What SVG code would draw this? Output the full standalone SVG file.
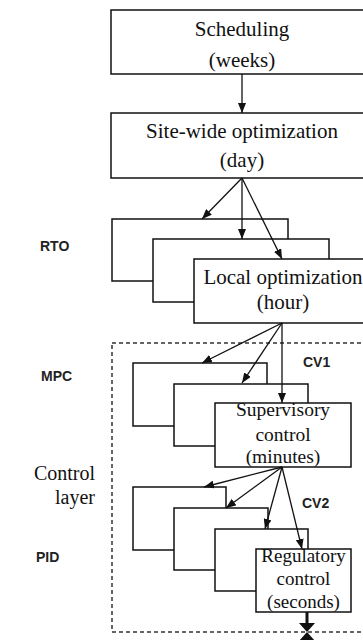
<svg xmlns="http://www.w3.org/2000/svg" width="363" height="640" viewBox="0 0 363 640">
<style>
  .box { fill: #fff; stroke: #111; stroke-width: 1.5; }
  .t { font-family: "Liberation Serif", "Times New Roman", serif; fill: #111; text-anchor: middle; }
  .big { font-size: 21px; }
  .sm { font-size: 19.5px; }
  .lab { font-family: "Liberation Sans", Arial, sans-serif; font-weight: bold; font-size: 14px; fill: #222; }
  .con { stroke: #111; stroke-width: 1.3; fill: none; marker-end: url(#ah); }
</style>
<defs>
  <marker id="ah" markerUnits="userSpaceOnUse" markerWidth="10" markerHeight="8" refX="10" refY="4" orient="auto">
    <path d="M0,0 L10,4 L0,8 z" fill="#111"/>
  </marker>
</defs>
<rect width="363" height="640" fill="#fff"/>

<g id="control-layer-frame">
  <rect x="112" y="343" width="260" height="289" fill="none" stroke="#333" stroke-width="1.5" stroke-dasharray="4 3"/>
</g>

<g id="scheduling">
  <rect class="box" x="111" y="10" width="260" height="64"/>
  <text class="t big" x="242" y="36">Scheduling</text>
  <text class="t big" x="242" y="67">(weeks)</text>
</g>

<g id="site-wide">
  <rect class="box" x="111" y="113" width="260" height="65"/>
  <text class="t big" x="242" y="138">Site-wide optimization</text>
  <text class="t big" x="242" y="167">(day)</text>
</g>

<g id="rto-back1"><rect class="box" x="112" y="219" width="176" height="62"/></g>
<g id="rto-back2"><rect class="box" x="153" y="239" width="176" height="63"/></g>
<g id="local-opt">
  <rect class="box" x="194" y="259" width="180" height="64"/>
  <text class="t big" x="283" y="284">Local optimization</text>
  <text class="t big" x="283" y="309">(hour)</text>
</g>

<g id="mpc-back1"><rect class="box" x="133" y="363" width="134" height="63"/></g>
<g id="mpc-back2"><rect class="box" x="174" y="384" width="134" height="62"/></g>
<g id="supervisory">
  <rect class="box" x="215" y="403" width="136" height="64"/>
  <text class="t sm" x="283" y="416">Supervisory</text>
  <text class="t sm" x="283" y="441">control</text>
  <text class="t sm" x="283" y="463">(minutes)</text>
</g>

<g id="pid-back1"><rect class="box" x="133" y="487" width="93" height="63"/></g>
<g id="pid-back2"><rect class="box" x="174" y="508" width="94" height="62"/></g>
<g id="pid-back3"><rect class="box" x="215" y="529" width="93" height="62"/></g>
<g id="regulatory">
  <rect class="box" x="256" y="549" width="95" height="63"/>
  <text class="t" style="font-size:19px" x="303.5" y="562">Regulatory</text>
  <text class="t" style="font-size:19px" x="303.5" y="585">control</text>
  <text class="t" style="font-size:19px" x="303.5" y="608">(seconds)</text>
</g>

<g id="connectors">
  <line class="con" x1="242" y1="74" x2="242" y2="113"/>
  <line class="con" x1="242" y1="178" x2="202" y2="219"/>
  <line class="con" x1="242" y1="178" x2="242" y2="239"/>
  <line class="con" x1="242" y1="178" x2="282" y2="259"/>
  <line class="con" x1="282" y1="323" x2="202" y2="363"/>
  <line class="con" x1="282" y1="323" x2="242" y2="383"/>
  <line class="con" x1="282" y1="323" x2="282" y2="403"/>
  <line class="con" x1="282" y1="467" x2="204" y2="487"/>
  <line class="con" x1="282" y1="467" x2="226" y2="508"/>
  <line class="con" x1="282" y1="467" x2="265" y2="529"/>
  <line class="con" x1="282" y1="467" x2="302" y2="549"/>
</g>

<g id="valve">
  <line x1="307" y1="612" x2="307" y2="626" stroke="#111" stroke-width="3"/>
  <polygon points="299,623 315,623 307,632 315,641 299,641 307,632" fill="#111"/>
</g>

<g id="labels">
  <text class="lab" x="40" y="251">RTO</text>
  <text class="lab" x="41" y="381">MPC</text>
  <text class="lab" x="36" y="562">PID</text>
  <text class="lab" x="303" y="367">CV1</text>
  <text class="lab" x="302" y="508">CV2</text>
  <text class="t" style="font-size:20px;text-anchor:end" x="95" y="480">Control</text>
  <text class="t" style="font-size:20px;text-anchor:end" x="95" y="504">layer</text>
</g>
</svg>
